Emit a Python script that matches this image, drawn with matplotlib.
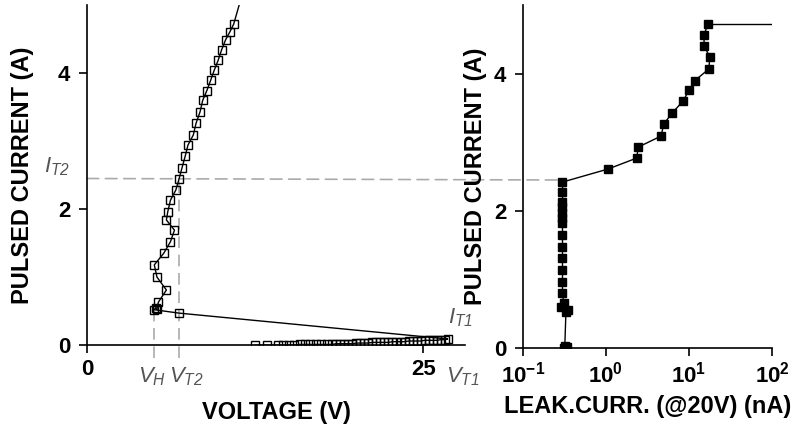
import matplotlib
matplotlib.use("Agg")
import matplotlib.pyplot as plt
from matplotlib.patches import ConnectionPatch
from matplotlib.ticker import NullLocator

plt.rcParams['font.family'] = ['Liberation Sans', 'DejaVu Sans']
plt.rcParams['font.weight'] = 'bold'
plt.rcParams['axes.labelweight'] = 'bold'
plt.rcParams['axes.labelsize'] = 17
plt.rcParams['font.size'] = 16
plt.rcParams['mathtext.fontset'] = 'custom'
plt.rcParams['mathtext.rm'] = 'Liberation Sans:style=italic:weight=normal'
plt.rcParams['mathtext.it'] = 'Liberation Sans:style=italic:weight=normal'

# TLP sweep: off-state branch, snapback, then on-state branch
off_v = [12.5, 13.4, 14.2, 14.6, 15.0, 15.4, 15.8, 16.2, 16.6, 17.0, 17.4,
         17.8, 18.2, 18.5, 18.8, 19.1, 19.4, 19.7, 20.0, 20.3, 20.6, 20.9,
         21.2, 21.5, 21.8, 22.1, 22.4, 22.7, 23.0, 23.3, 23.6, 23.9, 24.2,
         24.5, 24.8, 25.1, 25.4, 25.7, 26.0, 26.3, 26.6, 26.8]
off_i = [0.0, 0.0, 0.0, 0.0, 0.0, 0.0, 0.01, 0.01, 0.01, 0.01, 0.01,
         0.01, 0.01, 0.02, 0.02, 0.02, 0.02, 0.02, 0.03, 0.03, 0.03, 0.03,
         0.04, 0.04, 0.04, 0.04, 0.04, 0.05, 0.05, 0.05, 0.05, 0.06, 0.06,
         0.06, 0.06, 0.07, 0.07, 0.07, 0.07, 0.08, 0.08, 0.09]
on_v = [6.85, 5.0, 5.1, 5.2, 5.3, 5.9, 5.2, 5.0, 5.7, 6.2, 6.5, 5.9, 6.0,
        6.2, 6.6, 6.85, 7.05, 7.3, 7.5, 7.9, 8.1, 8.4, 8.6, 8.9, 9.2, 9.45,
        9.75, 10.0, 10.3, 10.6, 10.9, 11.45]
on_i = [0.47, 0.52, 0.55, 0.53, 0.63, 0.81, 1.0, 1.18, 1.35, 1.52, 1.69,
        1.84, 1.96, 2.13, 2.28, 2.45, 2.6, 2.78, 2.94, 3.09, 3.26, 3.43, 3.6,
        3.74, 3.9, 4.04, 4.19, 4.34, 4.49, 4.6, 4.72, 5.1]

# leakage after each pulse
pulse_i = [0.0, 0.01, 0.02, 0.03, 0.52, 0.55, 0.6, 0.66, 0.8, 0.96, 1.14,
           1.31, 1.47, 1.65, 1.82, 1.9, 1.97, 2.06, 2.13, 2.28, 2.42, 2.61,
           2.77, 2.93, 3.09, 3.27, 3.43, 3.6, 3.76, 3.9, 4.07, 4.25, 4.4,
           4.57, 4.73]
leak = [0.31, 0.34, 0.33, 0.32, 0.33, 0.35, 0.29, 0.31, 0.30, 0.30, 0.30,
        0.30, 0.30, 0.30, 0.30, 0.30, 0.30, 0.30, 0.30, 0.30, 0.30, 1.06,
        2.35, 2.45, 4.6, 5.0, 6.3, 8.5, 10.0, 11.8, 17.4, 17.8, 15.2,
        15.2, 17.0]
fail_leak = 100.0

v_h, v_t2, i_t2 = 5.0, 6.85, 2.45

fig = plt.figure(figsize=(7.91, 4.25), dpi=100)
ax1 = fig.add_axes([0.110, 0.188, 0.478, 0.800])
ax2 = fig.add_axes([0.661, 0.181, 0.315, 0.807])

for ax in (ax1, ax2):
    ax.patch.set_visible(False)
    ax.spines['top'].set_visible(False)
    ax.spines['right'].set_visible(False)
    ax.spines['left'].set_linewidth(1.2)
    ax.spines['bottom'].set_linewidth(1.2)
    ax.tick_params(direction='out', length=6, width=1.2, pad=4,
                   labelsize=16)
    ax.tick_params(axis='y', pad=6)
    ax.set_ylim(0, 5.0)
    ax.set_yticks([0, 2, 4])

# --- I-V curve
ax1.plot(off_v + on_v, off_i + on_i, '-s', color='black', lw=1.0,
         ms=6.3, mfc='none', mew=1.0)
ax1.set_xlim(0, 28.1)
ax1.set_xticks([0, 25])
ax1.set_xlabel('VOLTAGE (V)', labelpad=15)
ax1.set_ylabel('PULSED CURRENT (A)', labelpad=17)

dash = dict(color='#aaaaaa', lw=1.2, dashes=(7, 4))
ax1.plot([v_h, v_h], [-0.19, 0.52], clip_on=False, zorder=0, **dash)
ax1.plot([v_t2, v_t2], [-0.19, i_t2], clip_on=False, zorder=0, **dash)

lab = dict(color='#555555', fontsize=16, ha='center', va='center')
ax1.text(v_h - 0.15, -0.46, r'$V_H$', **lab)
ax1.text(v_t2 + 0.55, -0.46, r'$V_{T2}$', **lab)
ax1.text(27.9, -0.46, r'$V_{T1}$', clip_on=False, **lab)
ax1.text(27.75, 0.40, r'$I_{T1}$', clip_on=False, **lab)
ax1.text(-2.2, 2.62, r'$I_{T2}$', clip_on=False, **lab)

# --- leakage vs pulse current
ax2.plot(leak, pulse_i, '-s', color='black', lw=1.0, ms=6.3)
ax2.plot([leak[-1], fail_leak], [pulse_i[-1], pulse_i[-1]], '-',
         color='black', lw=1.0)
ax2.set_xscale('log')
ax2.set_xlim(0.1, 100)
ax2.set_xticks([0.1, 1, 10, 100])
ax2.xaxis.set_minor_locator(NullLocator())
ax2.set_xlabel('LEAK.CURR. (@20V) (nA)', labelpad=5)
ax2.set_ylabel('PULSED CURRENT (A)', labelpad=5)

con = ConnectionPatch(xyA=(0, i_t2), coordsA=ax1.transData,
                      xyB=(0.30, i_t2), coordsB=ax2.transData,
                      linestyle=(0, (7, 4)), color='#aaaaaa', lw=1.2,
                      zorder=-1)
fig.add_artist(con)

fig.savefig('out.png', dpi=100)
